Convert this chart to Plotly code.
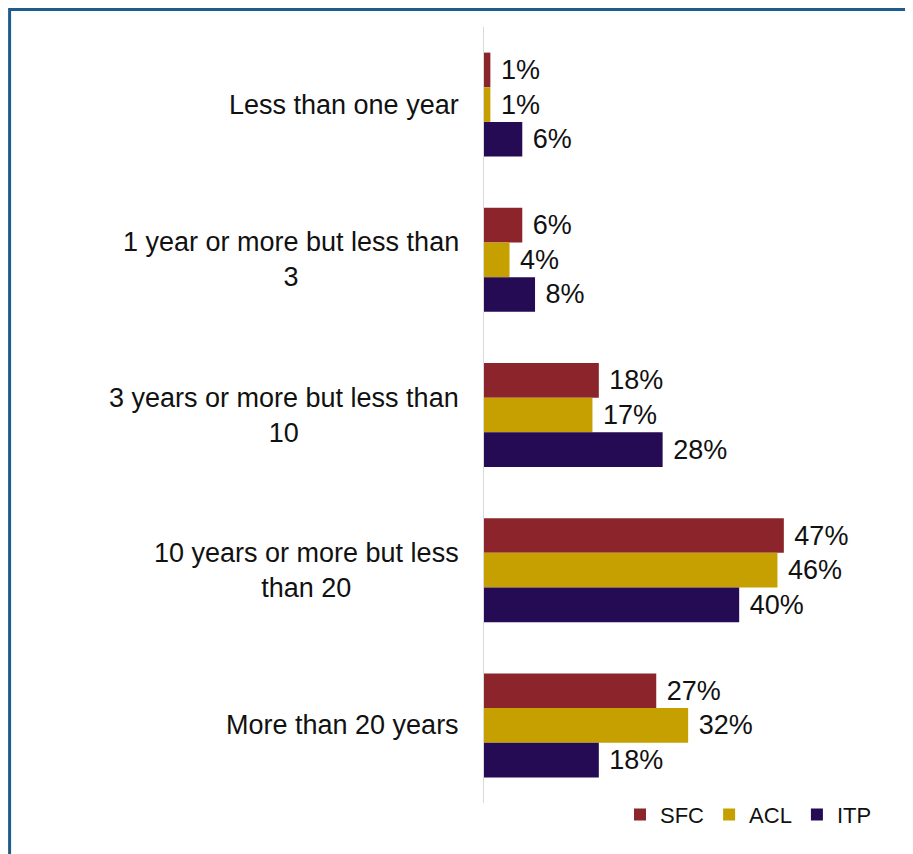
import plotly.graph_objects as go

categories = ["Less than one year", "1 year or more but less than 3",
              "3 years or more but less than 10", "10 years or more but less than 20",
              "More than 20 years"]
cat_labels = ["Less than one year", "1 year or more but less than<br>3",
              "3 years or more but less than<br>10", "10 years or more but less<br>than 20",
              "More than 20 years"]
sfc = [1, 6, 18, 47, 27]
acl = [1, 4, 17, 46, 32]
itp = [6, 8, 28, 40, 18]
series = [("SFC", sfc, "#8B252B"), ("ACL", acl, "#C5A000"), ("ITP", itp, "#250A54")]

FONT = "Liberation Sans, Arial, sans-serif"
fig = go.Figure()
for name, vals, col in series:
    fig.add_trace(go.Bar(
        y=categories, x=vals, name=name, orientation="h",
        marker=dict(color=col, line=dict(width=0)),
        text=[f" {v}%" for v in vals], textposition="outside",
        textfont=dict(size=27, color="#111111", family=FONT),
        cliponaxis=False,
    ))

for c, lab in zip(categories, cat_labels):
    fig.add_annotation(x=0, xref="paper", y=c, yref="y", text=lab, showarrow=False,
                       xanchor="right", xshift=-23, align="center",
                       font=dict(size=27, color="#111111", family=FONT))

fig.add_shape(type="rect", xref="paper", yref="paper", x0=-1.186, x1=2, y0=-0.3, y1=1.0226,
              line=dict(color="#1F5C8C", width=3), fillcolor="rgba(0,0,0,0)")

fig.update_layout(
    width=913, height=854,
    margin=dict(l=476, r=37, t=19, b=59),
    paper_bgcolor="white", plot_bgcolor="white",
    barmode="group", bargap=0.33, bargroupgap=0,
    showlegend=True,
    legend=dict(orientation="h", x=0.34, y=0.012, xanchor="left", yanchor="top",
                font=dict(size=22, color="#111111", family=FONT), traceorder="normal",
                itemwidth=30, tracegroupgap=0, bgcolor="rgba(0,0,0,0)"),
    xaxis=dict(range=[0, 62.7], visible=False, showgrid=False, zeroline=False),
    yaxis=dict(autorange="reversed", showticklabels=False, ticks="", showgrid=False,
               showline=True, linecolor="#D9D9D9", linewidth=1, zeroline=False),
    font=dict(family=FONT),
)
fig.write_html("out.html")
